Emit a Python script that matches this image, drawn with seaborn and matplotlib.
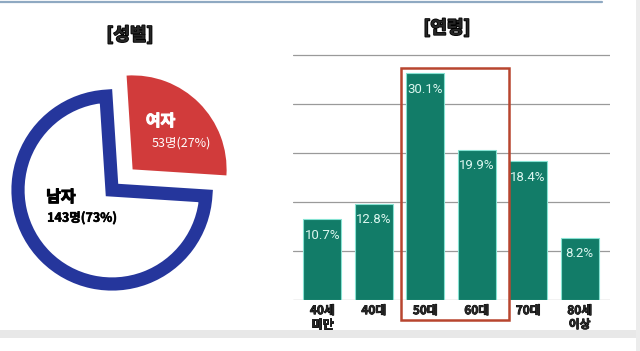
import numpy as np
import pandas as pd
import seaborn as sns
import matplotlib.pyplot as plt
import matplotlib.patheffects as pe
from matplotlib.patches import Rectangle
from matplotlib.lines import Line2D

# gender split
gender_labels = ["여자", "남자"]
gender_counts = [53, 143]
gender_pct = [27, 73]

# age distribution (%)
age_groups = ["40세\n미만", "40대", "50대", "60대", "70대", "80세\n이상"]
age_pct = [10.7, 12.8, 30.1, 19.9, 18.4, 8.2]
highlight = ["50대", "60대"]

sns.set_style("white")
plt.rcParams['font.family'] = ['Noto Sans CJK KR', 'DejaVu Sans']


def thick(color, w=0.9):
    # fake a black/heavy weight
    return [pe.withStroke(linewidth=w, foreground=color)]


W, H = 640, 351
fig = plt.figure(figsize=(6.4, 3.51), dpi=100)
fig.patch.set_facecolor("white")

# frame bits of the original screenshot
fig.add_artist(Line2D([0, 602 / W], [1 - 1.5 / H, 1 - 1.5 / H], color="#8fa9c2", lw=1.6))
fig.add_artist(Rectangle((0, 1 - 338 / H), 1, 8 / H, color="#e8e8e8", lw=0))
fig.add_artist(Rectangle((636 / W, 0), 4 / W, 1, color="#ececec", lw=0))

# ---- pie (gender) ----
red = "#d13b3b"
blue = "#25369c"
ax1 = fig.add_axes([0, 11 / H, 260 / W, 300 / H])
share_f = gender_counts[0] / sum(gender_counts) * 360
wedges, _ = ax1.pie(gender_counts, startangle=45 - share_f / 2, counterclock=True,
                    explode=[0.31, 0], radius=1, colors=[red, "white"])
wedges[0].set_edgecolor("none")
wedges[1].set_edgecolor(blue)
wedges[1].set_linewidth(9.5)
wedges[1].set_joinstyle("miter")
ax1.set_aspect("auto")
ax1.set_xlim(-112 / 94, 148 / 94)
ax1.set_ylim(-150 / 94, 150 / 94)
ax1.axis("off")

ax1.text(0.36, 0.734, gender_labels[0], color="white", fontsize=11.5,
         fontweight="bold", ha="left", va="center", path_effects=thick("white", 0.8))
ax1.text(0.42, 0.50, f"{gender_counts[0]}명({gender_pct[0]}%)", color="white",
         fontsize=9, ha="left", va="center")
ax1.text(-0.70, -0.074, gender_labels[1], color="black", fontsize=11.5,
         fontweight="bold", ha="left", va="center", path_effects=thick("black", 0.8))
ax1.text(-0.69, -0.298, f"{gender_counts[1]}명({gender_pct[1]}%)", color="black",
         fontsize=9, fontweight="bold", ha="left", va="center",
         path_effects=thick("black", 0.4))

fig.text(130 / W, 1 - 35 / H, "[성별]", ha="center", va="center",
         fontsize=13, fontweight="bold", path_effects=thick("black", 1.2))

# ---- bars (age) ----
ax2 = fig.add_axes([293 / W, 51 / H, 317 / W, 247 / H])
df = pd.DataFrame({"age": age_groups, "pct": age_pct})
sns.barplot(data=df, x="age", y="pct", color="#127c68", width=0.74,
            edgecolor="#86e3d3", linewidth=0.8, saturation=1, ax=ax2, zorder=3)
ax2.bar_label(ax2.containers[0], labels=[f"{v}%" for v in age_pct],
              padding=-16, color="#dcf7f0", fontsize=9.5, family="Roboto")

ax2.set_xlim(-0.57, 5.59)
ax2.set_ylim(0, 32.8)
ax2.set_yticks(np.arange(0, 33, 6.5))
ax2.yaxis.grid(True, color="#9a9a9a", lw=0.9)
ax2.set_yticklabels([])
ax2.tick_params(axis="both", length=0)
ax2.tick_params(axis="x", pad=3)
for lab in ax2.get_xticklabels():
    lab.set_fontweight("bold")
    lab.set_fontsize(8.5)
    lab.set_linespacing(1.1)
    lab.set_path_effects(thick("black", 0.6))
ax2.set_xlabel("")
ax2.set_ylabel("")
for s in ax2.spines.values():
    s.set_visible(False)

# highlight box around 50대 / 60대
i0 = age_groups.index(highlight[0])
i1 = age_groups.index(highlight[1])
ax2.add_patch(Rectangle((i0 - 0.48, -2.65), (i1 - i0) + 1.1, 33.45, fill=False,
                        edgecolor="#b8452f", lw=1.8, clip_on=False, zorder=4))

fig.text(447 / W, 1 - 28 / H, "[연령]", ha="center", va="center",
         fontsize=13, fontweight="bold", path_effects=thick("black", 1.2))

fig.savefig("out.png", dpi=100)
